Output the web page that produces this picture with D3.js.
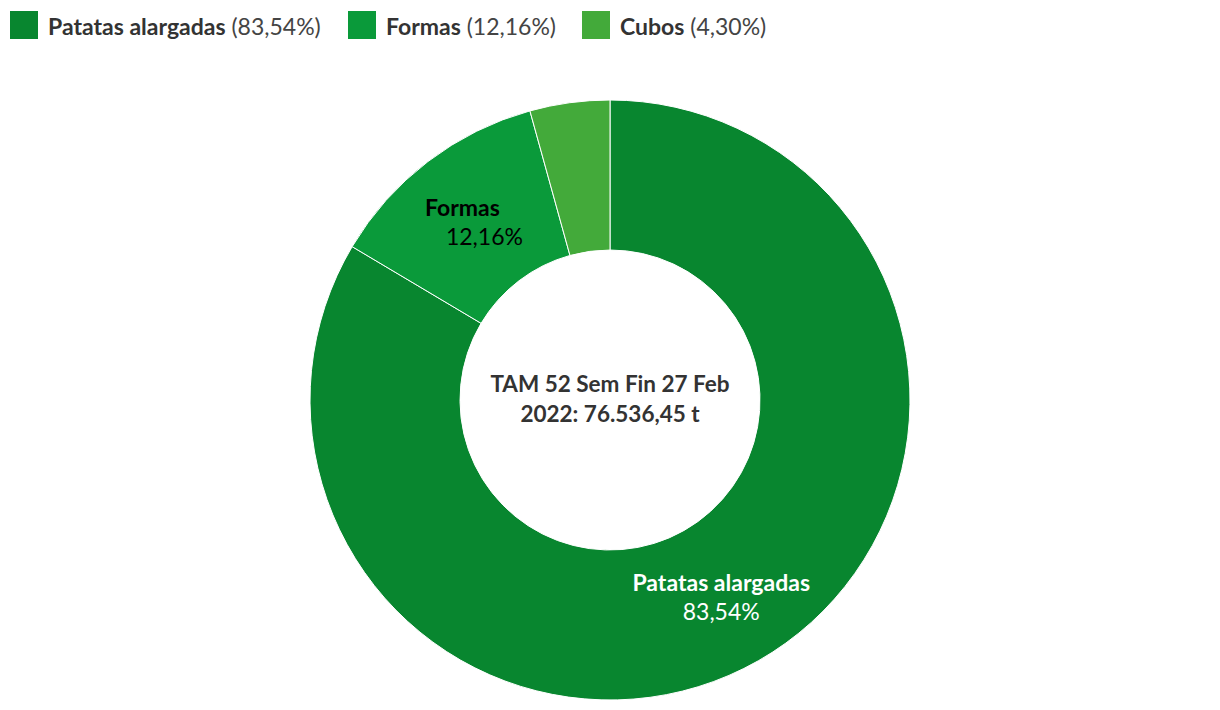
<!DOCTYPE html>
<html><head><meta charset="utf-8">
<script src="https://cdn.jsdelivr.net/npm/d3@7"></script>
<style>
html,body{margin:0;padding:0;background:#fff;}
svg{display:block;font-family:Lato, "Noto Sans", sans-serif;}
</style></head>
<body>
<svg id="chart" width="1220" height="710"></svg>
<script>
const categories = ["Patatas alargadas", "Formas", "Cubos"];
const values = [83.54, 12.16, 4.30];
const percentLabels = ["83,54%", "12,16%", "4,30%"];
const colors = ["#08862f", "#0a9a3a", "#43aa3a"];
const centerLines = ["TAM 52 Sem Fin 27 Feb", "2022: 76.536,45 t"];

const svg = d3.select("#chart");
const cx = 610, cy = 400, rOuter = 300, rInner = 150;

// legend
const legendX = [10, 348, 582];
const lg = svg.append("g");
categories.forEach((c, i) => {
  const g = lg.append("g").attr("transform", `translate(${legendX[i]},11)`);
  g.append("rect").attr("width", 28).attr("height", 28).attr("fill", colors[i]);
  const t = g.append("text").attr("x", 38).attr("y", 23.5).attr("font-size", 23).attr("fill", "#333");
  t.append("tspan").attr("font-weight", 700).text(c);
  t.append("tspan").attr("fill", "#444").text(" (" + percentLabels[i] + ")");
});

const pie = d3.pie().sort(null).value(d => d);
const arcs = pie(values);
const arc = d3.arc().innerRadius(rInner).outerRadius(rOuter);
const g = svg.append("g").attr("transform", `translate(${cx},${cy})`);
g.selectAll("path").data(arcs).join("path")
  .attr("d", arc).attr("fill", (d, i) => colors[i])
  .attr("stroke", "#fff").attr("stroke-width", 1);

// slice labels (not for Cubos)
const labelCfg = [
  {fill: "#fff", dx1: 0, dx2: 0},
  {fill: "#000", dx1: -11, dx2: 11}
];
labelCfg.forEach((cfg, i) => {
  const [x, y] = arc.centroid(arcs[i]);
  const t = g.append("text").attr("text-anchor", "middle").attr("font-size", 23).attr("fill", cfg.fill);
  t.append("tspan").attr("x", x + cfg.dx1).attr("y", y - 5).attr("font-weight", 700).text(categories[i]);
  t.append("tspan").attr("x", x + cfg.dx2).attr("y", y + 24).text(percentLabels[i]);
});

const ct = g.append("text").attr("text-anchor", "middle").attr("font-size", 22.5)
  .attr("font-weight", 700).attr("fill", "#333");
centerLines.forEach((l, i) => {
  ct.append("tspan").attr("x", 0).attr("y", -8 + i * 30).text(l);
});
</script>
</body></html>
